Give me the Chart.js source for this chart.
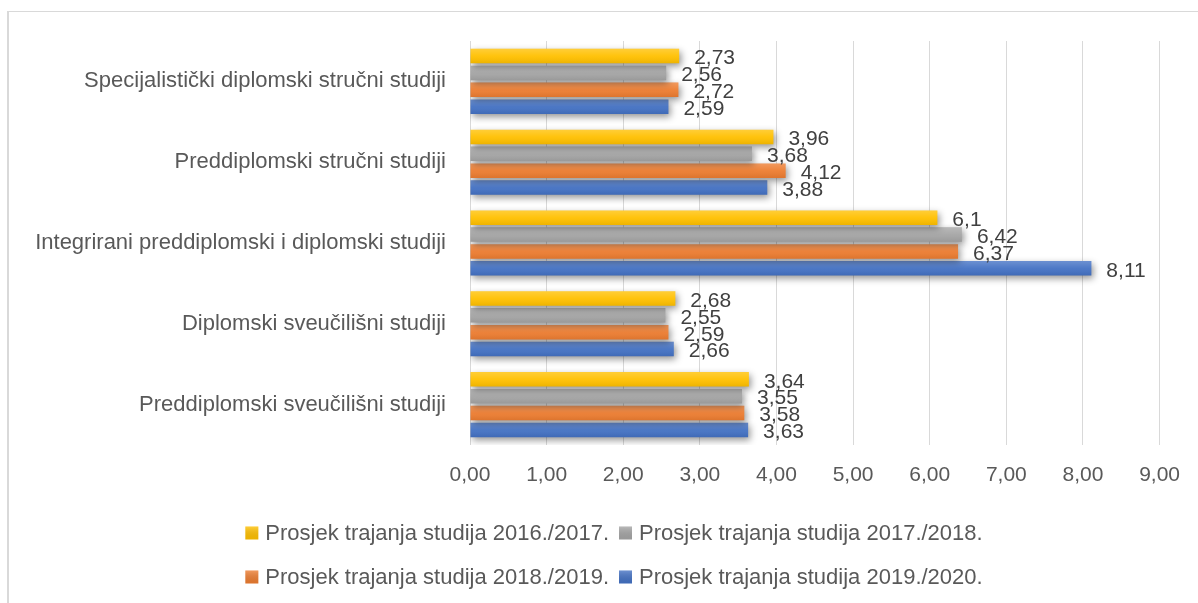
<!DOCTYPE html>
<html><head><meta charset="utf-8">
<script src="https://cdn.jsdelivr.net/npm/chart.js@4"></script>
<style>
html,body{margin:0;padding:0;background:#fff;}
#wrap{position:relative;width:1198px;height:603px;overflow:hidden;}
#frame{position:absolute;left:7px;top:11px;width:1300px;height:700px;border-top:1px solid #d9d9d9;border-left:2px solid #d9d9d9;}
canvas{position:absolute;left:0;top:0;}
</style></head><body>
<div id="wrap"><div id="frame"></div><canvas id="c" width="1198" height="603"></canvas></div>
<script>
const categories = [
  'Specijalistički diplomski stručni studiji',
  'Preddiplomski stručni studiji',
  'Integrirani preddiplomski i diplomski studiji',
  'Diplomski sveučilišni studiji',
  'Preddiplomski sveučilišni studiji'
];
const seriesLabels = [
  'Prosjek trajanja studija 2016./2017.',
  'Prosjek trajanja studija 2017./2018.',
  'Prosjek trajanja studija 2018./2019.',
  'Prosjek trajanja studija 2019./2020.'
];
const values2016 = [2.73, 3.96, 6.1, 2.68, 3.64];
const values2017 = [2.56, 3.68, 6.42, 2.55, 3.55];
const values2018 = [2.72, 4.12, 6.37, 2.59, 3.58];
const values2019 = [2.59, 3.88, 8.11, 2.66, 3.63];
const xMin = 0, xMax = 9, xStep = 1;

const colors = ['#FFC000', '#A5A5A5', '#ED7D31', '#4472C4'];
const FONT = "'Liberation Sans', Arial, sans-serif";

const shadowPlugin = {
  id: 'shadow',
  beforeDatasetDraw(chart) {
    const ctx = chart.ctx;
    ctx.save();
    ctx.shadowColor = 'rgba(0,0,0,0.42)';
    ctx.shadowBlur = 7;
    ctx.shadowOffsetX = 2;
    ctx.shadowOffsetY = 3;
  },
  afterDatasetDraw(chart, args) {
    const ctx = chart.ctx;
    ctx.restore();
    const meta = args.meta;
    meta.data.forEach(el => {
      const p = el.getProps(['x', 'y', 'base', 'height'], true);
      const top = p.y - p.height / 2, bot = p.y + p.height / 2;
      const g = ctx.createLinearGradient(0, top, 0, bot);
      g.addColorStop(0, 'rgba(255,255,255,0.22)');
      g.addColorStop(0.5, 'rgba(255,255,255,0.05)');
      g.addColorStop(1, 'rgba(0,0,0,0.07)');
      ctx.save();
      ctx.fillStyle = g;
      ctx.fillRect(Math.min(p.base, p.x), top, Math.abs(p.x - p.base), p.height);
      ctx.restore();
    });
  }
};

const labelPlugin = {
  id: 'valueLabels',
  afterDatasetsDraw(chart) {
    const ctx = chart.ctx;
    ctx.save();
    ctx.font = '21px ' + FONT;
    ctx.fillStyle = '#404040';
    ctx.textAlign = 'left';
    ctx.textBaseline = 'middle';
    chart.data.datasets.forEach((ds, di) => {
      const meta = chart.getDatasetMeta(di);
      meta.data.forEach((el, i) => {
        const p = el.getProps(['x', 'y'], true);
        ctx.fillText(String(ds.data[i]).replace('.', ','), p.x + 15, p.y + 2.5);
      });
    });
    ctx.restore();
  }
};

const legendPlugin = {
  id: 'customLegend',
  afterDraw(chart) {
    const ctx = chart.ctx;
    const rows = [[0, 1], [2, 3]];
    const rowY = [533, 577];
    const box = 13, gap = 7, itemGap = 10, centerX = 614;
    ctx.save();
    ctx.font = '22px ' + FONT;
    ctx.textBaseline = 'middle';
    rows.forEach((row, r) => {
      const widths = row.map(i => box + gap + ctx.measureText(chart.data.datasets[i].label).width);
      const total = widths.reduce((a, b) => a + b, 0) + itemGap * (row.length - 1);
      let x = centerX - total / 2;
      row.forEach((i, k) => {
        const ds = chart.data.datasets[i];
        const y = rowY[r];
        ctx.fillStyle = ds.backgroundColor;
        ctx.fillRect(x, y - box / 2, box, box);
        const g = ctx.createLinearGradient(0, y - box / 2, 0, y + box / 2);
        g.addColorStop(0, 'rgba(255,255,255,0.22)');
        g.addColorStop(1, 'rgba(0,0,0,0.07)');
        ctx.fillStyle = g;
        ctx.fillRect(x, y - box / 2, box, box);
        ctx.fillStyle = '#595959';
        ctx.fillText(ds.label, x + box + gap, y + 1);
        x += widths[k] + itemGap;
      });
    });
    ctx.restore();
  }
};

const seriesValues = [values2016, values2017, values2018, values2019];

new Chart(document.getElementById('c'), {
  type: 'bar',
  data: {
    labels: categories,
    datasets: seriesLabels.map((lab, i) => ({
      label: lab,
      data: seriesValues[i],
      backgroundColor: colors[i],
      borderWidth: 0,
      categoryPercentage: 0.835,
      barPercentage: 0.86
    }))
  },
  options: {
    indexAxis: 'y',
    responsive: false,
    animation: false,
    devicePixelRatio: 1,
    layout: { padding: { top: 41, right: 38, bottom: 0, left: 0 } },
    plugins: { legend: { display: false }, tooltip: { enabled: false } },
    scales: {
      x: {
        min: xMin, max: xMax,
        ticks: {
          stepSize: xStep,
          color: '#595959',
          font: { family: FONT, size: 21 },
          padding: 18,
          callback: v => Number(v).toFixed(2).replace('.', ',')
        },
        grid: { color: '#d9d9d9', lineWidth: 1, drawTicks: false },
        border: { display: false },
        afterFit: s => { s.height = 158; }
      },
      y: {
        ticks: { color: '#595959', font: { family: FONT, size: 22 }, padding: 24 },
        grid: { display: false, drawTicks: false },
        border: { display: false },
        afterFit: s => { s.width = 470; }
      }
    }
  },
  plugins: [shadowPlugin, labelPlugin, legendPlugin]
});
</script>
</body></html>
